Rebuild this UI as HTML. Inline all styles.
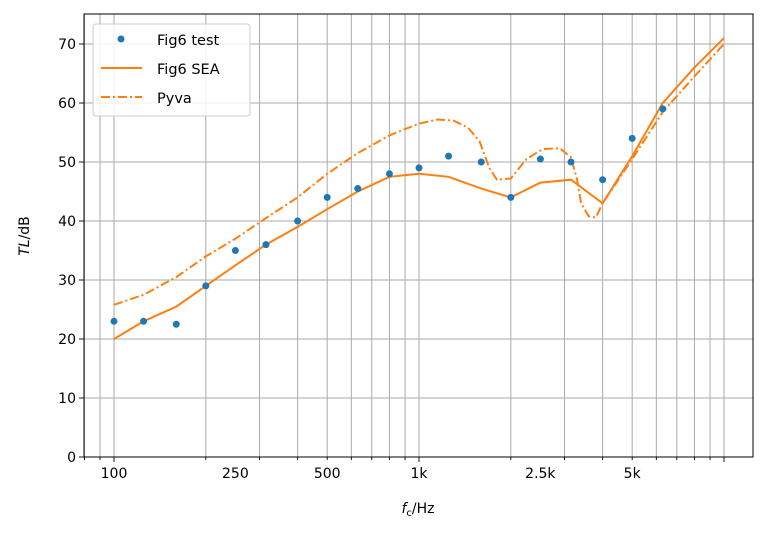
<!DOCTYPE html>
<html><head><meta charset="utf-8"><style>
body{margin:0;background:#fff;}
svg text{font-family:"DejaVu Sans","Liberation Sans",sans-serif;}
</style></head><body>
<svg id="s" width="766" height="535" xmlns="http://www.w3.org/2000/svg"></svg>
<script>
const s=document.getElementById('s');
const L=84,R=753,T=14,B=457;
const X=f=>114+305*(Math.log10(f)-2);
const Y=v=>457-v*59/10;
let h='';
for(let d=10;d<=10000;d*=10){for(let k=1;k<10;k++){const f=d*k;if(f<80||f>12400)continue;const x=X(f);
h+=`<line x1="${x}" y1="${T}" x2="${x}" y2="${B}" stroke="#aaa" stroke-width="1"/>`;
h+=`<line x1="${x}" y1="${B}" x2="${x}" y2="${B+(k==1?5:3)}" stroke="#000" stroke-width="0.9"/>`;}}
for(let v=0;v<=70;v+=10){const y=Y(v);h+=`<line x1="${L}" y1="${y}" x2="${R}" y2="${y}" stroke="#aaa" stroke-width="1"/>`;
h+=`<line x1="${L-5}" y1="${y}" x2="${L}" y2="${y}" stroke="#000" stroke-width="0.9"/>`;
h+=`<text x="${L-8}" y="${y+5}" font-size="14" text-anchor="end">${v}</text>`;}
[[100,'100'],[250,'250'],[500,'500'],[1000,'1k'],[2500,'2.5k'],[5000,'5k']].forEach(([f,t])=>{h+=`<text x="${X(f)}" y="${B+21}" font-size="14" text-anchor="middle">${t}</text>`;});
const sea=[[100,20],[125,23],[160,25.5],[200,29],[250,32.5],[315,36],[400,39],[500,42],[630,45],[800,47.5],[1000,48],[1250,47.5],[1600,45.5],[2000,44],[2500,46.5],[3150,47],[4000,43],[5000,51],[6300,60],[8000,66],[10000,71]];
const py=[[100,25.8],[125,27.5],[160,30.5],[200,34],[250,37],[315,40.5],[400,44],[500,48],[630,51.5],[800,54.5],[1000,56.5],[1150,57.2],[1300,57],[1450,55.8],[1580,53.5],[1700,49],[1800,47],[2000,47.2],[2250,50.5],[2550,52.2],[2900,52.3],[3150,50.8],[3300,47],[3400,43],[3600,40.8],[3800,40.6],[4000,43],[5000,50.5],[6300,58.5],[8000,64.5],[10000,70]];
const pts=a=>a.map(p=>X(p[0]).toFixed(1)+','+Y(p[1]).toFixed(1)).join(' ');
h+=`<polyline points="${pts(sea)}" fill="none" stroke="#ff7f0e" stroke-width="2"/>`;
h+=`<polyline points="${pts(py)}" fill="none" stroke="#ff7f0e" stroke-width="2" stroke-dasharray="9,3,2,3"/>`;
const te=[[100,23],[125,23],[160,22.5],[200,29],[250,35],[315,36],[400,40],[500,44],[630,45.5],[800,48],[1000,49],[1250,51],[1600,50],[2000,44],[2500,50.5],[3150,50],[4000,47],[5000,54],[6300,59]];
te.forEach(p=>{h+=`<circle cx="${X(p[0])}" cy="${Y(p[1])}" r="3.5" fill="#1f77b4"/>`;});
h+=`<rect x="${L}" y="${T}" width="${R-L}" height="${B-T}" fill="none" stroke="#000" stroke-width="1"/>`;
h+=`<rect x="93" y="24" width="157" height="92" rx="3" fill="#fff" fill-opacity="0.85" stroke="#ccc"/>`;
h+=`<circle cx="121" cy="39" r="3.5" fill="#1f77b4"/><text x="157" y="45" font-size="14.5">Fig6 test</text>`;
h+=`<line x1="101" y1="68" x2="142" y2="68" stroke="#ff7f0e" stroke-width="2"/><text x="157" y="74" font-size="14.5">Fig6 SEA</text>`;
h+=`<line x1="101" y1="97" x2="142" y2="97" stroke="#ff7f0e" stroke-width="2" stroke-dasharray="9,3,2,3"/><text x="157" y="103" font-size="14.5">Pyva</text>`;
h+=`<text x="418" y="513" font-size="14" text-anchor="middle"><tspan font-style="italic">f</tspan><tspan font-size="10" dy="3">c</tspan><tspan dy="-3">/Hz</tspan></text>`;
h+=`<text transform="translate(29,236) rotate(-90)" font-size="14" text-anchor="middle"><tspan font-style="italic">TL</tspan>/dB</text>`;
s.innerHTML=h;
</script>
</body></html>
